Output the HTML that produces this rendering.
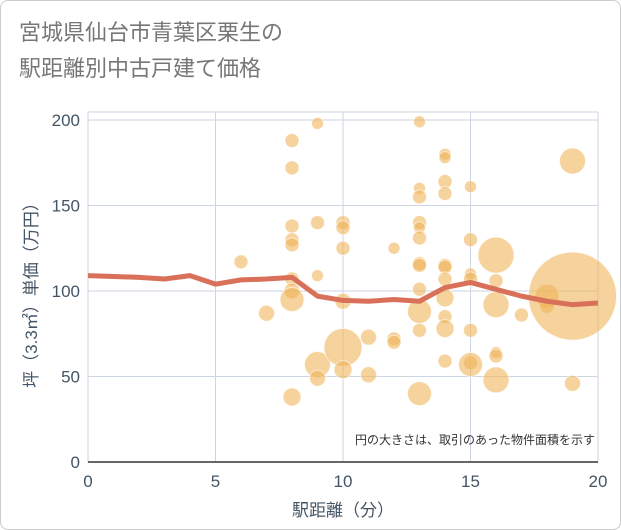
<!DOCTYPE html>
<html><head><meta charset="utf-8"><style>
body{margin:0;background:#fff;}
#wrap{position:relative;width:619px;height:528px;border:1px solid #ccc;border-radius:8px;overflow:hidden;font-family:"Liberation Sans","Noto Sans CJK JP",sans-serif;}
#title{position:absolute;left:18px;top:14px;font-size:22px;line-height:36px;color:#777;}
svg{position:absolute;left:0;top:0;}
</style></head><body>
<div id="wrap">
<div id="title">宮城県仙台市青葉区栗生の<br>駅距離別中古戸建て価格</div>
<svg id="chart" width="621" height="530"></svg>
</div>
<script>
const xTicks=[0,5,10,15,20];
const yTicks=[0,50,100,150,200];
const bubbleX=[6,7,8,8,8,8,8,8,8,8,8,9,9,9,9,9,10,10,10,10,10,10,11,11,12,12,12,13,13,13,13,13,13,13,13,13,13,13,13,14,14,14,14,14,14,14,14,14,14,14,15,15,15,15,15,15,15,16,16,16,16,16,16,17,18,18,19,19,19];
const bubbleY=[117,87,188,172,138,130,127,107,100,95,38,198,140,109,57,49,140,137,125,94,67,54,73,51,125,72,70,199,160,155,140,137,131,116,115,101,88,77,40,180,178,164,157,115,114,107,96,85,78,59,161,130,110,107,58,77,57,121,106,92,64,62,48,86,97,91,176,97,46];
const bubbleR=[7,8,7,7,7,7,7,7,8,12,9,6,7,6,13,8,7,7,7,8,19,9,8,8,6,7,7,6,6,7,7,6,7,7,7,7,12,7,12,6,6,7,7,7,7,7,9,7,9,7,6,7,6,7,7,7,12,18,7,13,6,7,13,7,12,7,13,44,8];
const lineX=[0,1,2,3,4,5,6,7,8,9,10,11,12,13,14,15,16,17,18,19,20];
const lineY=[109,108.5,108,107,109,104,106.5,107,108,97,94.5,94,95,94,102,105,101,97,94,92,93];
const svg=document.getElementById('chart');const NS='http://www.w3.org/2000/svg';
const X0=87,X1=597,Y0=461,Y1=119;
const sx=v=>X0+(v-0)/20*(X1-X0), sy=v=>Y0-(v/200)*(Y0-Y1);
function mk(t,a,p){const e=document.createElementNS(NS,t);for(const k in a)e.setAttribute(k,a[k]);(p||svg).appendChild(e);return e;}
const grid=mk('g',{});


mk('rect',{x:X0,y:Y1-8,width:X1-X0,height:Y0-Y1+8,fill:'none',stroke:'#ccd6e2'},grid);
xTicks.forEach(t=>{mk('line',{x1:sx(t),x2:sx(t),y1:Y1-8,y2:Y0,stroke:'#ccd6e2'},grid);
 const l=mk('text',{x:sx(t),y:486,'text-anchor':'middle','font-size':17,fill:'#445566'});l.textContent=t;
 });
yTicks.forEach(t=>{mk('line',{x1:X0,x2:X1,y1:sy(t),y2:sy(t),stroke:'#ccd6e2'},grid);
 const l=mk('text',{x:79,y:sy(t)+6,'text-anchor':'end','font-size':17,fill:'#445566'});l.textContent=t;
 });
mk('line',{x1:X0,x2:X1,y1:Y0,y2:Y0,stroke:'#333','stroke-width':1.5});
const bg=mk('g',{});


bubbleX.forEach((v,i)=>{const c=mk('circle',{cx:sx(v),cy:sy(bubbleY[i]),r:bubbleR[i],fill:'rgba(240,180,90,0.6)',stroke:'rgba(255,255,255,0.6)','stroke-width':1},bg);
 });
const p=mk('polyline',{points:lineX.map((v,i)=>sx(v)+','+sy(lineY[i])).join(' '),fill:'none',stroke:'#d9705a','stroke-width':5,'stroke-linejoin':'round'});

const n=mk('text',{x:594,y:443,'text-anchor':'end','font-size':12,fill:'#333'});n.textContent='円の大きさは、取引のあった物件面積を示す';

const xt=mk('text',{x:342,y:515,'text-anchor':'middle','font-size':17,fill:'#445566'});xt.textContent='駅距離（分）';

const yt=mk('text',{x:0,y:0,'text-anchor':'middle','font-size':17,fill:'#445566',transform:'translate(36,290) rotate(-90)'});yt.textContent='坪（3.3㎡）単価（万円）';

</script>
</body></html>
